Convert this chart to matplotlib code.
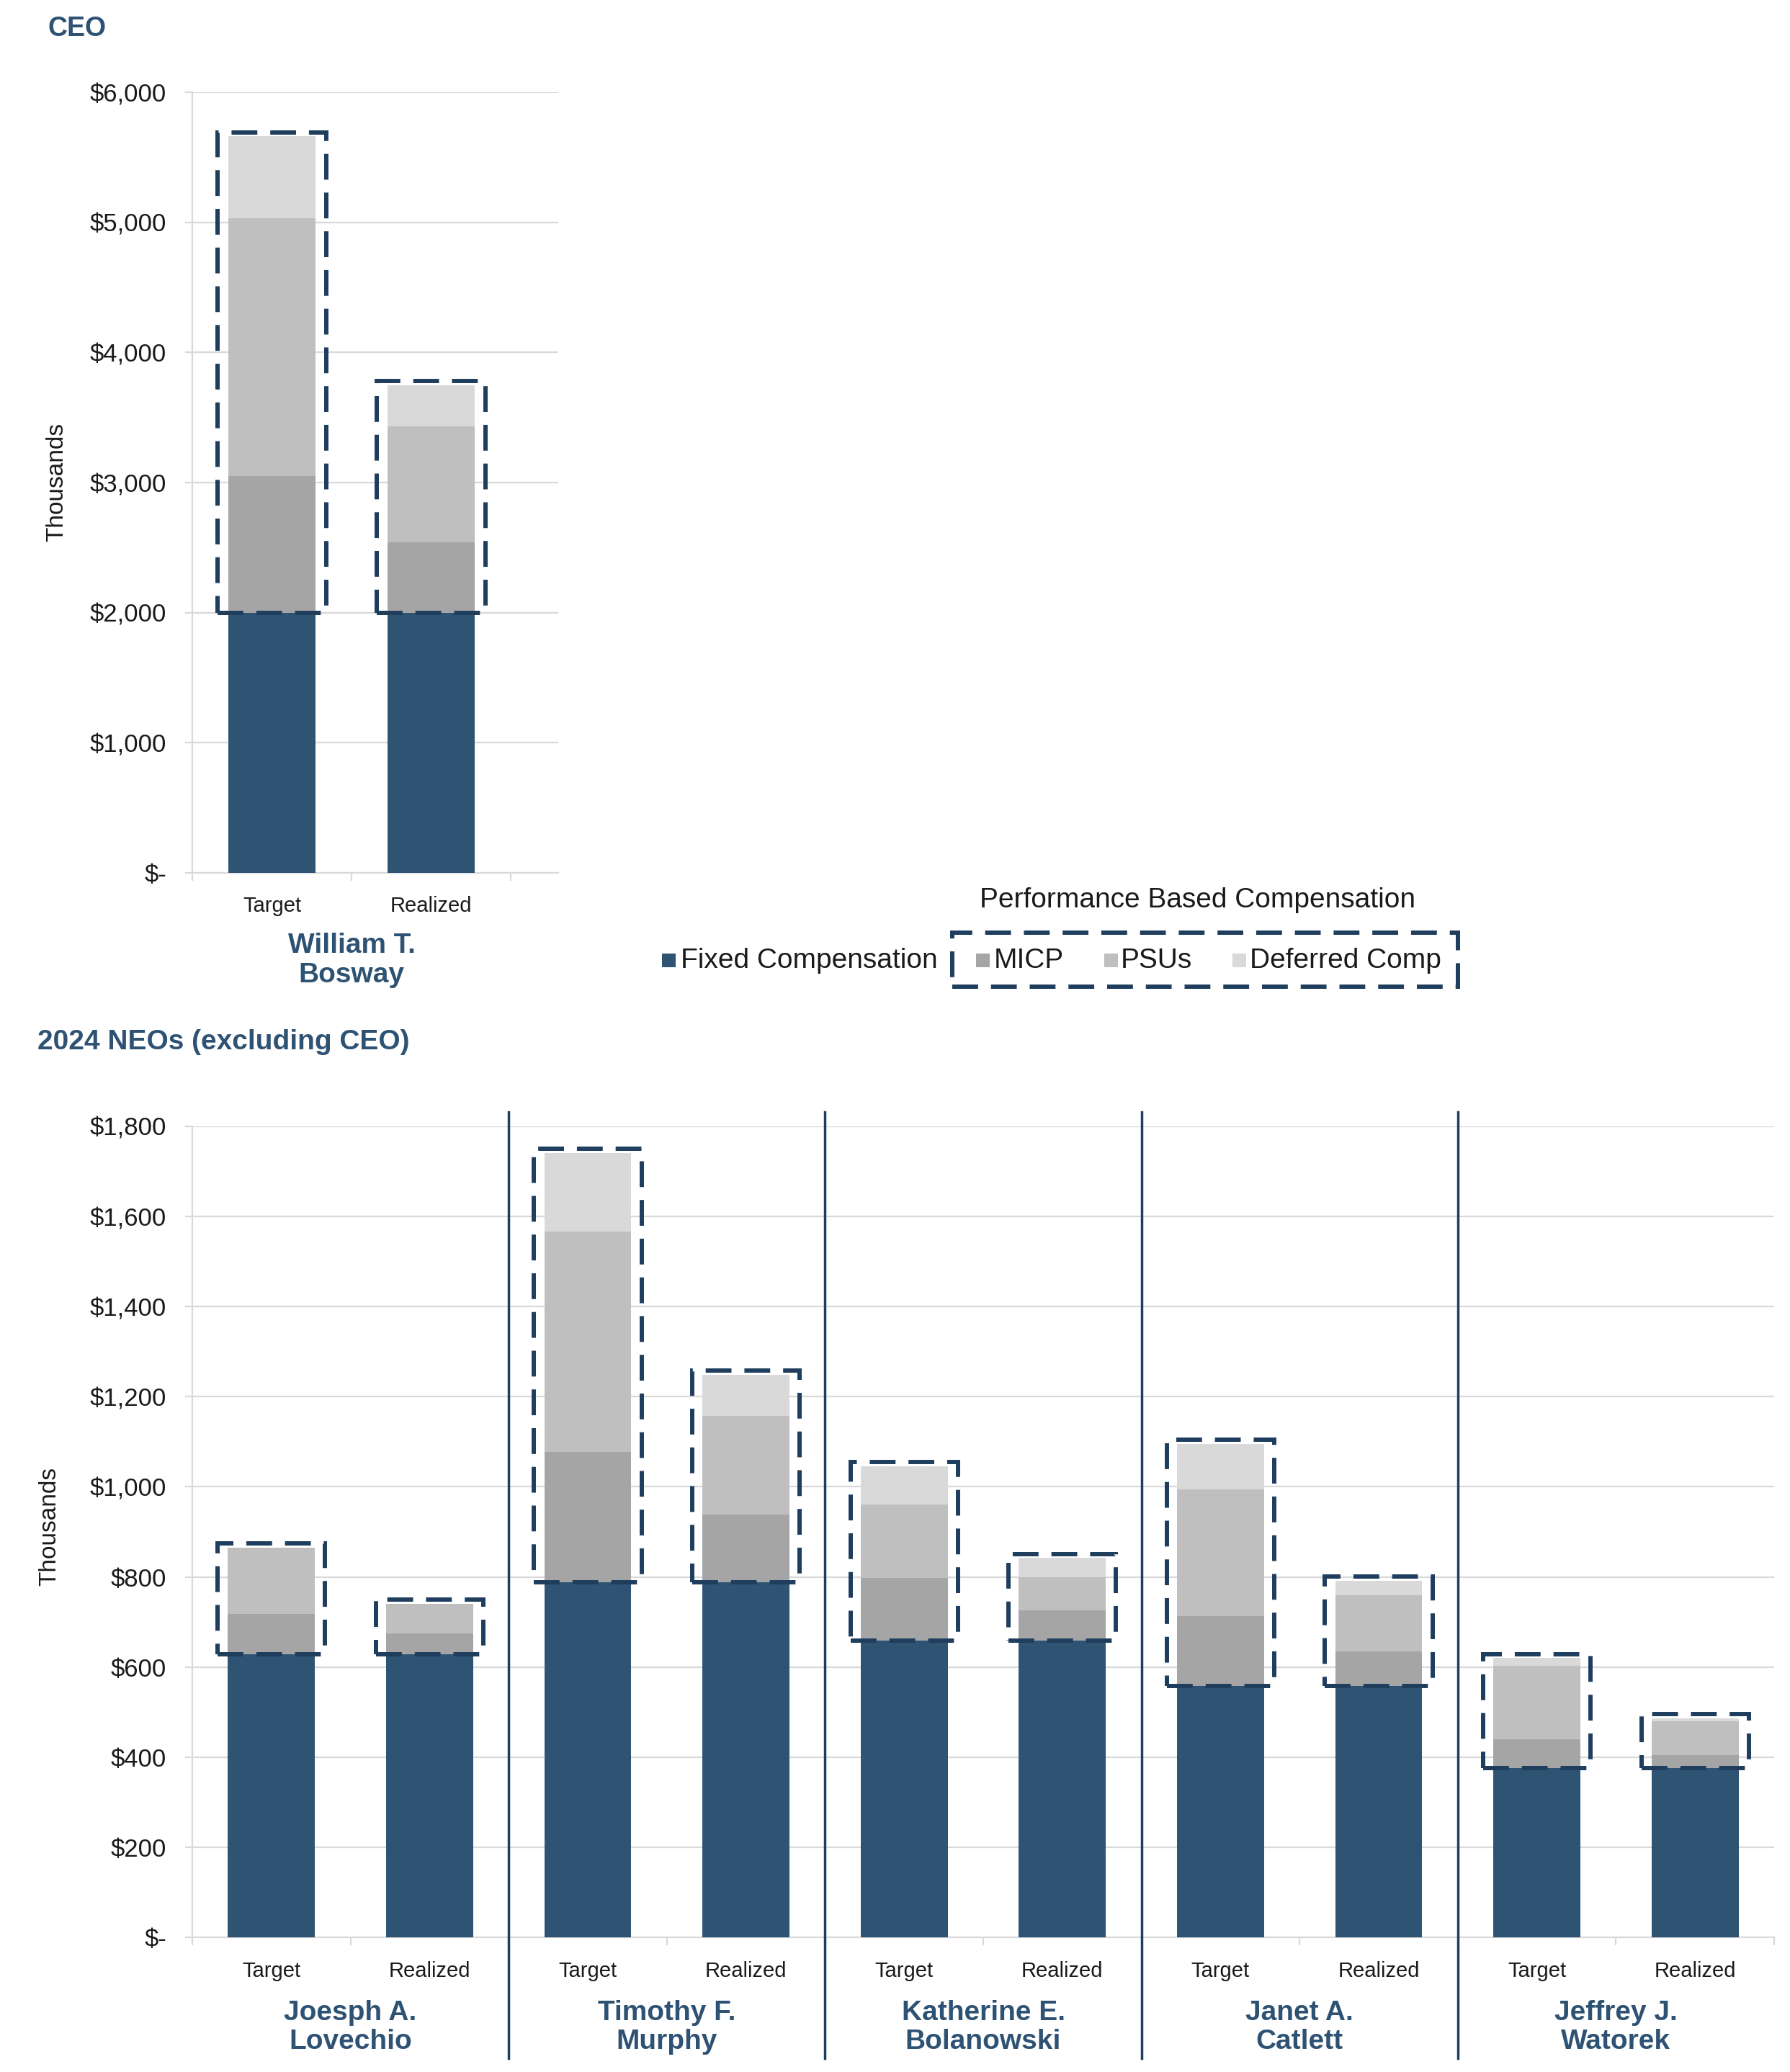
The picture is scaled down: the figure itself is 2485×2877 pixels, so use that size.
import matplotlib
matplotlib.use("Agg")
import matplotlib.pyplot as plt
from matplotlib.patches import Rectangle
from matplotlib.ticker import FuncFormatter, FixedLocator

plt.rcParams['font.family'] = ['Liberation Sans', 'DejaVu Sans']

# ---------------- data ----------------
categories = ["Target", "Realized"]
series_names = ["Fixed Compensation", "MICP", "PSUs", "Deferred Comp"]

ceo_name = "William T.\nBosway"
ceo_fixed = [2000, 2000]
ceo_micp = [1050, 540]
ceo_psu = [1980, 890]
ceo_def = [630, 320]
ceo_yticks = [0, 1000, 2000, 3000, 4000, 5000, 6000]

neo_names = ["Joesph A.\nLovechio", "Timothy F.\nMurphy", "Katherine E.\nBolanowski",
             "Janet A.\nCatlett", "Jeffrey J.\nWatorek"]
neo_fixed = [628, 628, 788, 788, 658, 658, 558, 558, 375, 375]
neo_micp = [90, 47, 290, 150, 140, 68, 155, 76, 64, 30]
neo_psu = [147, 65, 488, 219, 163, 74, 282, 126, 163, 75]
neo_def = [0, 0, 175, 92, 85, 42, 100, 32, 18, 6]
neo_yticks = [0, 200, 400, 600, 800, 1000, 1200, 1400, 1600, 1800]

# ---------------- style ----------------
colors = ["#2F5373", "#A5A5A5", "#BFBFBF", "#D9D9D9"]
box_color = "#1F3E5E"
title_color = "#2E5273"
grid_color = "#D9D9D9"
W, H = 2485, 2877
BW = 0.55
EXT = 0.065
DASH = (0, (6, 3))
LW_BOX = 4.3

fig = plt.figure(figsize=(W / 100, H / 100), dpi=100)


def fmt(v, _):
    return "$-" if v == 0 else "${:,.0f}".format(v)


def draw(ax, fixed, micp, psu, dfc, yticks, xmax):
    n = len(fixed)
    xs = list(range(n))
    bottoms = [0] * n
    for vals, c in zip([fixed, micp, psu, dfc], colors):
        ax.bar(xs, vals, BW, bottom=bottoms, color=c, zorder=3, linewidth=0)
        bottoms = [b + v for b, v in zip(bottoms, vals)]
    ymax = yticks[-1]
    pad = 0.005 * ymax
    for i in xs:
        y0 = fixed[i]
        y1 = bottoms[i] + pad
        ax.add_patch(Rectangle((i - BW / 2 - EXT, y0), BW + 2 * EXT, y1 - y0,
                               fill=False, ec=box_color, lw=LW_BOX, ls=DASH,
                               zorder=5, joinstyle='miter', capstyle='butt'))
    ax.set_ylim(0, ymax)
    ax.set_xlim(-0.5, xmax)
    ax.set_yticks(yticks)
    ax.yaxis.set_major_formatter(FuncFormatter(fmt))
    ax.grid(axis='y', color=grid_color, lw=1.6, zorder=0)
    ax.set_axisbelow(True)
    for s in ['top', 'right']:
        ax.spines[s].set_visible(False)
    for s in ['left', 'bottom']:
        ax.spines[s].set_color(grid_color)
        ax.spines[s].set_linewidth(1.6)
    ax.tick_params(axis='y', length=7, width=1.6, color=grid_color, labelsize=25,
                   pad=19, labelcolor='#1A1A1A')
    ax.set_xticks([])
    ax.xaxis.set_minor_locator(FixedLocator([k - 0.5 for k in range(n + 1)]))
    ax.tick_params(axis='x', which='minor', length=8, width=1.6, color=grid_color,
                   direction='out')
    return xs


# ---------------- CEO chart ----------------
ax1 = fig.add_axes([267 / W, 1 - 1212 / H, (775 - 267) / W, (1212 - 128) / H])
xs1 = draw(ax1, ceo_fixed, ceo_micp, ceo_psu, ceo_def, ceo_yticks, -0.5 + (775 - 267) / 221)
tr1 = ax1.get_xaxis_transform()
for i in xs1:
    ax1.text(i, -0.042, categories[i % 2], transform=tr1, ha='center', va='center',
             fontsize=21, color='#1A1A1A')
ax1.text(0.5, -0.112, ceo_name, transform=tr1, ha='center', va='center', fontsize=28,
         fontweight='bold', color=title_color, linespacing=1.15)
fig.text(66 / W, 1 - 40 / H, "CEO", ha='left', va='center', fontsize=27,
         fontweight='bold', color=title_color)
fig.text(79 / W, 1 - 669 / H, "Thousands", rotation=90, ha='center', va='center',
         fontsize=24, color='#1A1A1A')

# ---------------- NEO chart ----------------
ax2 = fig.add_axes([267 / W, 1 - 2690 / H, (2463 - 267) / W, (2690 - 1564) / H])
xs2 = draw(ax2, neo_fixed, neo_micp, neo_psu, neo_def, neo_yticks, 9.5)
tr2 = ax2.get_xaxis_transform()
for i in xs2:
    ax2.text(i, -0.042, categories[i % 2], transform=tr2, ha='center', va='center',
             fontsize=21, color='#1A1A1A')
for g, name in enumerate(neo_names):
    ax2.text(2 * g + 0.5, -0.111, name, transform=tr2, ha='center', va='center',
             fontsize=28, fontweight='bold', color=title_color, linespacing=1.15)
for g in range(1, len(neo_names)):
    ax2.axvline(2 * g - 0.5, ymin=-0.149, ymax=1.0178, color=box_color, lw=2.5,
                clip_on=False, zorder=6)
fig.text(52 / W, 1 - 1447 / H, "2024 NEOs (excluding CEO)", ha='left', va='center',
         fontsize=28, fontweight='bold', color=title_color)
fig.text(69 / W, 1 - 2119 / H, "Thousands", rotation=90, ha='center', va='center',
         fontsize=24, color='#1A1A1A')

# ---------------- legend ----------------
sq = 19
leg_y = 1334
items = [(919, 945), (1355, 1380), (1533, 1556), (1711, 1735)]
for (sx, tx), c, lab in zip(items, colors, series_names):
    fig.patches.append(Rectangle((sx / W, 1 - (leg_y + sq / 2) / H), sq / W, sq / H,
                                 transform=fig.transFigure, color=c, lw=0))
    fig.text(tx / W, 1 - leg_y / H, lab, ha='left', va='center', fontsize=28,
             color='#1A1A1A')
fig.patches.append(Rectangle((1322 / W, 1 - 1370 / H), (2024 - 1322) / W, (1370 - 1295) / H,
                             transform=fig.transFigure, fill=False, ec=box_color,
                             lw=LW_BOX, ls=DASH, joinstyle='miter'))
fig.text(1663 / W, 1 - 1250 / H, "Performance Based Compensation", ha='center',
         va='center', fontsize=28, color='#1A1A1A')

fig.savefig("out.png", dpi=100, facecolor='white')
